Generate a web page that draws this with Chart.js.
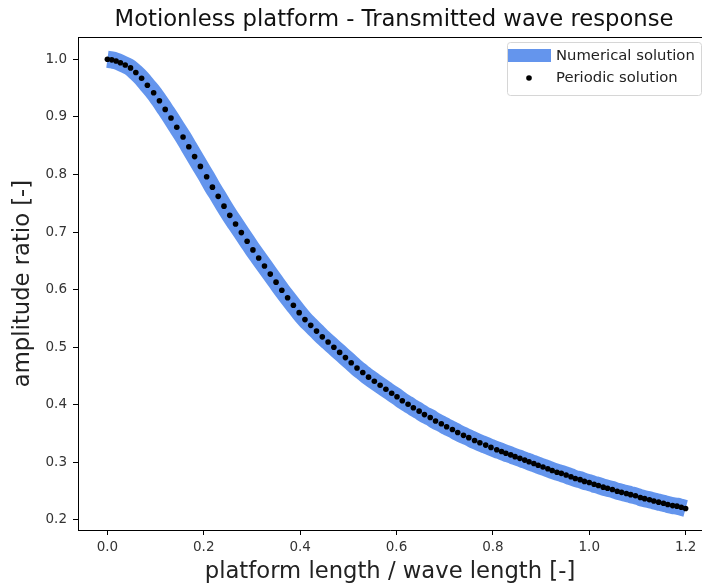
<!DOCTYPE html>
<html lang="en">
<head>
    <meta charset="UTF-8">
    <title>Motionless platform - Transmitted wave response</title>
    <style>
        body {
            margin: 0;
            padding: 0;
            background-color: #ffffff;
        }
        #chart-container {
            width: 702px;
            height: 586px;
        }
    </style>
    <script src="https://cdn.jsdelivr.net/npm/chart.js"></script>
</head>
<body>
    <div id="chart-container">
        <canvas id="myChart" width="702" height="586"></canvas>
    </div>

    <script>
        // values
        const lengthRatio = [
            0.000, 0.009, 0.018, 0.027, 0.037, 0.048, 0.059, 0.071, 0.083, 0.096,
            0.108, 0.120, 0.132, 0.144, 0.157, 0.169, 0.181, 0.193, 0.206,
            0.218, 0.230, 0.242, 0.254, 0.266, 0.278, 0.290, 0.302, 0.314, 0.326,
            0.338, 0.350, 0.362, 0.374, 0.386, 0.398,
            0.410, 0.422, 0.434, 0.446, 0.458, 0.470, 0.482, 0.494, 0.506, 0.518,
            0.530, 0.542, 0.554, 0.566, 0.578, 0.590, 0.601,
            0.612, 0.624, 0.635, 0.647, 0.658, 0.670, 0.681, 0.693, 0.704, 0.716,
            0.727, 0.739, 0.750, 0.762, 0.773, 0.785, 0.796, 0.808,
            0.818, 0.827, 0.837, 0.846, 0.856, 0.866, 0.875, 0.885, 0.894, 0.904,
            0.914, 0.923, 0.933, 0.942, 0.952, 0.962, 0.971, 0.981, 0.990, 1.000,
            1.010, 1.019, 1.029, 1.038, 1.048, 1.058, 1.067, 1.077, 1.086, 1.096,
            1.106, 1.115, 1.125, 1.134, 1.144, 1.154, 1.163, 1.173, 1.182, 1.191,
            1.200
        ];
        const amplitudeRatio = [
            1.000, 0.999, 0.997, 0.994, 0.990, 0.985, 0.977, 0.967, 0.955, 0.942,
            0.928, 0.913, 0.898, 0.882, 0.865, 0.848, 0.831, 0.814, 0.796,
            0.778, 0.762, 0.745, 0.729, 0.714, 0.699, 0.684, 0.669, 0.655, 0.641,
            0.627, 0.613, 0.599, 0.586, 0.573, 0.560,
            0.548, 0.538, 0.528, 0.518, 0.509, 0.500, 0.491, 0.482, 0.473, 0.464,
            0.456, 0.448, 0.441, 0.434, 0.427, 0.420, 0.414,
            0.407, 0.401, 0.395, 0.389, 0.383, 0.378, 0.372, 0.367, 0.362, 0.357,
            0.352, 0.347, 0.343, 0.338, 0.334, 0.330, 0.326, 0.322,
            0.319, 0.316, 0.313, 0.310, 0.307, 0.304, 0.301, 0.298, 0.295, 0.292,
            0.289, 0.286, 0.283, 0.281, 0.278, 0.275, 0.272, 0.270, 0.267, 0.265,
            0.262, 0.260, 0.257, 0.255, 0.253, 0.250, 0.248, 0.246, 0.244, 0.242,
            0.239, 0.237, 0.235, 0.233, 0.231, 0.229, 0.227, 0.225, 0.224, 0.222,
            0.220
        ];
        const xTicks = [0.0, 0.2, 0.4, 0.6, 0.8, 1.0, 1.2];
        const yTicks = [0.2, 0.3, 0.4, 0.5, 0.6, 0.7, 0.8, 0.9, 1.0];
        const seriesNames = ['Numerical solution', 'Periodic solution'];

        const points = lengthRatio.map((x, i) => ({ x: x, y: amplitudeRatio[i] }));
        const FONT = "'DejaVu Sans', sans-serif";

        // title over the plot area, plus top spine
        const frameAndTitle = {
            id: 'frameAndTitle',
            afterDraw(chart) {
                const { ctx, chartArea } = chart;
                ctx.save();
                ctx.strokeStyle = '#000';
                ctx.lineWidth = 1;
                ctx.beginPath();
                ctx.moveTo(chartArea.left, chartArea.top + 0.5);
                ctx.lineTo(chartArea.right, chartArea.top + 0.5);
                ctx.stroke();
                ctx.fillStyle = '#111';
                ctx.font = '22.7px ' + FONT;
                ctx.textAlign = 'center';
                ctx.textBaseline = 'alphabetic';
                ctx.fillText('Motionless platform - Transmitted wave response',
                    (chartArea.left + chartArea.right) / 2 + 4, 26);
                ctx.restore();
            }
        };

        // matplotlib-like legend box in the upper right corner
        const boxLegend = {
            id: 'boxLegend',
            afterDraw(chart) {
                const { ctx } = chart;
                const ds = chart.data.datasets;
                const x0 = 507, y0 = 42, w = 194, h = 53;
                ctx.save();
                ctx.fillStyle = 'rgba(255,255,255,0.8)';
                ctx.strokeStyle = '#d6d6d6';
                ctx.lineWidth = 1;
                ctx.beginPath();
                ctx.roundRect(x0 + 0.5, y0 + 0.5, w, h, 3);
                ctx.fill();
                ctx.stroke();
                ctx.fillStyle = ds[0].borderColor;
                ctx.fillRect(x0 + 1, y0 + 7, 43, 13);
                ctx.fillStyle = '#000';
                ctx.beginPath();
                ctx.arc(x0 + 22, y0 + 36, 2.8, 0, Math.PI * 2);
                ctx.fill();
                ctx.fillStyle = '#222';
                ctx.font = '14.8px ' + FONT;
                ctx.textBaseline = 'middle';
                ctx.fillText(ds[0].label, x0 + 49, y0 + 14);
                ctx.fillText(ds[1].label, x0 + 49, y0 + 36);
                ctx.restore();
            }
        };

        const ctx = document.getElementById('myChart').getContext('2d');
        const myChart = new Chart(ctx, {
            type: 'scatter',
            data: {
                datasets: [{
                    label: seriesNames[0],
                    data: points,
                    showLine: true,
                    borderColor: '#6495ED',
                    borderWidth: 17,
                    borderCapStyle: 'butt',
                    cubicInterpolationMode: 'monotone',
                    pointRadius: 0,
                    order: 2
                }, {
                    label: seriesNames[1],
                    data: points,
                    showLine: false,
                    pointRadius: 2.8,
                    pointBackgroundColor: '#000',
                    pointBorderWidth: 0,
                    order: 1
                }]
            },
            options: {
                responsive: false,
                animation: false,
                layout: { autoPadding: false, padding: { top: 37, right: 0, left: 0, bottom: 0 } },
                plugins: {
                    legend: { display: false },
                    tooltip: { enabled: false }
                },
                scales: {
                    x: {
                        type: 'linear',
                        min: -0.061,
                        max: 1.234,
                        afterBuildTicks: s => { s.ticks = xTicks.map(v => ({ value: v })); },
                        afterFit: s => { s.height = 56; },
                        grid: { drawOnChartArea: false, color: '#000', tickLength: 5 },
                        border: { color: '#000', width: 1 },
                        ticks: {
                            color: '#333',
                            font: { family: FONT, size: 13.5 },
                            padding: 4,
                            maxRotation: 0,
                            callback: v => v.toFixed(1)
                        },
                        title: {
                            display: true,
                            text: 'platform length / wave length [-]',
                            color: '#222',
                            font: { family: FONT, size: 22.7 },
                            padding: { top: 0, bottom: 0 }
                        }
                    },
                    y: {
                        type: 'linear',
                        min: 0.1826,
                        max: 1.0387,
                        afterBuildTicks: s => { s.ticks = yTicks.map(v => ({ value: v })); },
                        afterFit: s => { s.width = 78; },
                        grid: { drawOnChartArea: false, color: '#000', tickLength: 5 },
                        border: { color: '#000', width: 1 },
                        ticks: {
                            color: '#333',
                            font: { family: FONT, size: 13.5 },
                            padding: 6,
                            callback: v => v.toFixed(1)
                        },
                        title: {
                            display: true,
                            text: 'amplitude ratio [-]',
                            color: '#222',
                            font: { family: FONT, size: 22.7 },
                            padding: { top: 9, bottom: 0 }
                        }
                    }
                }
            },
            plugins: [frameAndTitle, boxLegend]
        });
    </script>
</body>
</html>
